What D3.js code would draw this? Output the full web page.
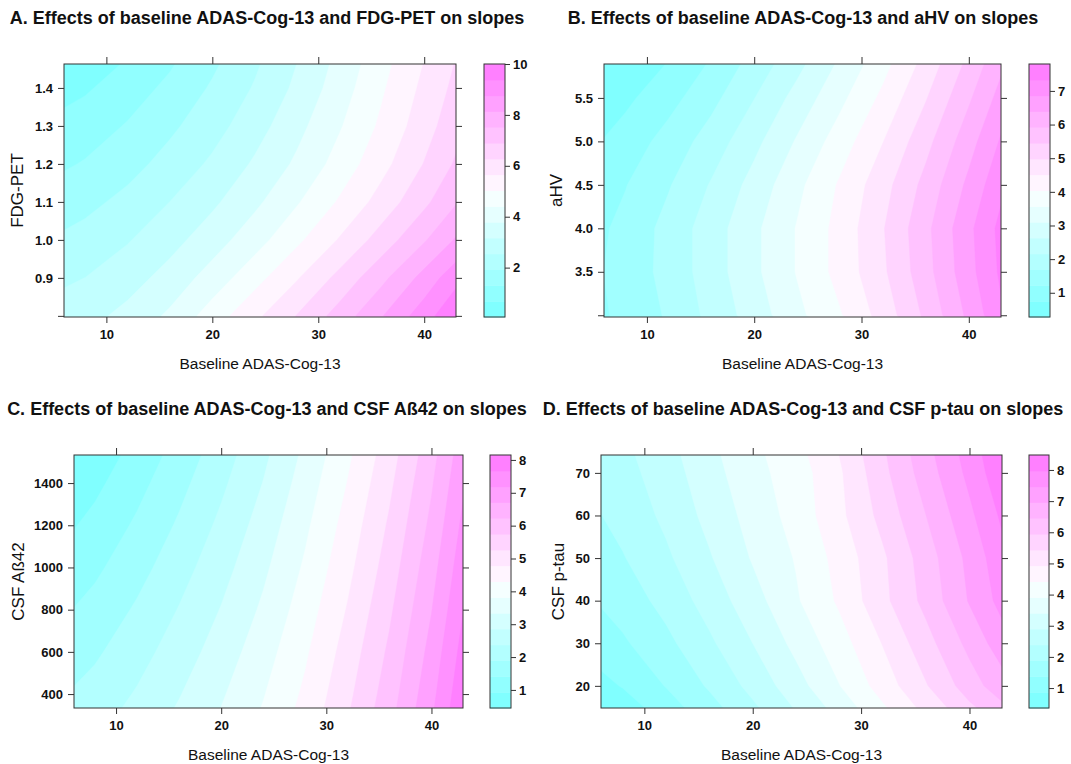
<!DOCTYPE html>
<html>
<head>
<meta charset="utf-8">
<script src="https://cdn.jsdelivr.net/npm/d3@7"></script>
<style>
  body { margin: 0; background: #fff; }
  svg text { font-family: "Liberation Sans", Arial, Helvetica, sans-serif; fill: #111; }
</style>
</head>
<body>
<svg id="fig" width="1071" height="764"></svg>
<script>
// ---- Data -----------------------------------------------------------------
// Baseline ADAS-Cog-13 grid (columns of every surface)
const adasGrid = [4, 8, 12, 16, 20, 24, 28, 32, 36, 40, 44];
const adasDomain = [6, 43];
const adasTicks = [10, 20, 30, 40];

// A. FDG-PET
const fdgGrid = [0.8, 0.9, 1.0, 1.1, 1.2, 1.3, 1.4, 1.5];
const slopesFdg = [
  [2.75, 2.95, 3.35, 3.9, 4.7, 5.5, 6.3, 7.15, 8.1, 9.1, 10.2],
  [2.3, 2.55, 2.9, 3.4, 4.05, 4.8, 5.6, 6.45, 7.35, 8.35, 9.45],
  [1.9, 2.15, 2.5, 2.95, 3.5, 4.15, 4.9, 5.7, 6.55, 7.45, 8.45],
  [1.5, 1.75, 2.1, 2.55, 3.05, 3.65, 4.35, 5.1, 5.9, 6.75, 7.7],
  [1.1, 1.35, 1.7, 2.15, 2.65, 3.25, 3.9, 4.65, 5.45, 6.3, 7.2],
  [0.75, 1.0, 1.35, 1.8, 2.3, 2.9, 3.6, 4.35, 5.15, 6.0, 6.9],
  [0.3, 0.6, 1.0, 1.45, 2.0, 2.6, 3.3, 4.1, 4.95, 5.8, 6.65],
  [-0.1, 0.2, 0.6, 1.1, 1.7, 2.35, 3.1, 3.9, 4.75, 5.6, 6.45]
];
const fdgDomain = [0.797, 1.463];
const fdgTicks = [0.8, 0.9, 1.0, 1.1, 1.2, 1.3, 1.4];
const fdgTickLabels = ["", "0.9", "1.0", "1.1", "1.2", "1.3", "1.4"];
const fdgRange = [0.06, 10.0];
const fdgBarTicks = [2, 4, 6, 8, 10];

// B. aHV
const ahvGrid = [3.0, 3.5, 4.0, 4.5, 5.0, 5.5, 6.0];
const slopesAhv = [
  [1.0, 1.35, 1.75, 2.3, 2.85, 3.45, 4.0, 4.7, 5.55, 6.5, 7.5],
  [1.05, 1.4, 1.85, 2.4, 3.0, 3.6, 4.2, 4.9, 5.75, 6.7, 7.65],
  [1.0, 1.35, 1.85, 2.4, 3.0, 3.6, 4.2, 4.95, 5.8, 6.75, 7.7],
  [0.85, 1.2, 1.65, 2.2, 2.8, 3.45, 4.1, 4.8, 5.6, 6.5, 7.45],
  [0.6, 0.95, 1.4, 1.9, 2.5, 3.15, 3.8, 4.5, 5.3, 6.2, 7.15],
  [0.3, 0.65, 1.05, 1.55, 2.15, 2.8, 3.45, 4.15, 4.95, 5.85, 6.8],
  [-0.05, 0.3, 0.7, 1.2, 1.8, 2.4, 3.1, 3.8, 4.6, 5.5, 6.45]
];
const ahvDomain = [2.98, 5.89];
const ahvTicks = [3.0, 3.5, 4.0, 4.5, 5.0, 5.5];
const ahvTickLabels = ["", "3.5", "4.0", "4.5", "5.0", "5.5"];
const ahvRange = [0.28, 7.8];
const ahvBarTicks = [1, 2, 3, 4, 5, 6, 7];

// C. CSF Aß42
const abetaGrid = [200, 400, 600, 800, 1000, 1200, 1400, 1600];
const slopesAbeta = [
  [2.08, 2.32, 2.66, 3.05, 3.48, 3.97, 4.56, 5.31, 6.16, 7.22, 8.52],
  [1.81, 2.07, 2.42, 2.83, 3.28, 3.79, 4.39, 5.14, 5.99, 7.04, 8.34],
  [1.55, 1.82, 2.19, 2.61, 3.08, 3.61, 4.23, 4.98, 5.83, 6.87, 8.16],
  [1.28, 1.57, 1.96, 2.40, 2.88, 3.42, 4.06, 4.81, 5.66, 6.69, 7.97],
  [1.01, 1.32, 1.72, 2.18, 2.68, 3.24, 3.89, 4.64, 5.49, 6.52, 7.79],
  [0.74, 1.07, 1.49, 1.96, 2.48, 3.06, 3.73, 4.48, 5.33, 6.34, 7.61],
  [0.48, 0.82, 1.26, 1.75, 2.28, 2.87, 3.56, 4.31, 5.16, 6.17, 7.42],
  [0.21, 0.57, 1.02, 1.53, 2.08, 2.69, 3.39, 4.14, 4.99, 5.99, 7.24]
];
const abetaDomain = [334, 1533];
const abetaTicks = [400, 600, 800, 1000, 1200, 1400];
const abetaTickLabels = ["400", "600", "800", "1000", "1200", "1400"];
const abetaRange = [0.45, 8.15];
const abetaBarTicks = [1, 2, 3, 4, 5, 6, 7, 8];

// D. CSF p-tau
const ptauGrid = [10, 20, 30, 40, 50, 60, 70, 80];
const slopesPtau = [
  [-0.05, 0.3, 0.85, 1.45, 2.05, 2.7, 3.35, 4.05, 4.8, 5.5, 6.1],
  [0.55, 0.9, 1.4, 1.95, 2.55, 3.2, 3.9, 4.65, 5.4, 6.2, 6.95],
  [0.95, 1.3, 1.75, 2.3, 2.9, 3.55, 4.2, 4.95, 5.75, 6.6, 7.45],
  [1.25, 1.6, 2.05, 2.6, 3.2, 3.85, 4.5, 5.3, 6.1, 7.0, 7.85],
  [1.5, 1.85, 2.3, 2.85, 3.45, 3.95, 4.6, 5.35, 6.2, 7.1, 8.05],
  [1.7, 2.05, 2.5, 3.05, 3.6, 4.1, 4.8, 5.6, 6.45, 7.35, 8.3],
  [1.85, 2.2, 2.65, 3.2, 3.75, 4.15, 4.85, 5.8, 6.7, 7.6, 8.6],
  [2.0, 2.35, 2.8, 3.35, 3.85, 4.35, 5.05, 5.95, 6.9, 7.8, 8.8]
];
const ptauDomain = [14.8, 74.2];
const ptauTicks = [20, 30, 40, 50, 60, 70];
const ptauTickLabels = ["20", "30", "40", "50", "60", "70"];
const ptauRange = [0.36, 8.48];
const ptauBarTicks = [1, 2, 3, 4, 5, 6, 7, 8];

const titles = [
  "A. Effects of baseline ADAS-Cog-13 and FDG-PET on slopes",
  "B. Effects of baseline ADAS-Cog-13 and aHV on slopes",
  "C. Effects of baseline ADAS-Cog-13 and CSF A\u00df42 on slopes",
  "D. Effects of baseline ADAS-Cog-13 and CSF p-tau on slopes"
];
const xLabel = "Baseline ADAS-Cog-13";
const yLabels = ["FDG-PET", "aHV", "CSF A\u00df42", "CSF p-tau"];

// ---- Layout ---------------------------------------------------------------
const nBands = 16;
const INK = "#333";

const panels = [
  { title: titles[0], yLabel: yLabels[0], ys: fdgGrid, z: slopesFdg, yDomain: fdgDomain,
    yTicks: fdgTicks, yTickLabels: fdgTickLabels, zRange: fdgRange, barTicks: fdgBarTicks,
    box: { l: 64, r: 456, t: 64, b: 317 }, bar: { l: 484, r: 505 }, titleX: 267, titleY: 24, yLabelX: 23 },
  { title: titles[1], yLabel: yLabels[1], ys: ahvGrid, z: slopesAhv, yDomain: ahvDomain,
    yTicks: ahvTicks, yTickLabels: ahvTickLabels, zRange: ahvRange, barTicks: ahvBarTicks,
    box: { l: 604, r: 1001, t: 64, b: 317 }, bar: { l: 1029, r: 1050 }, titleX: 803, titleY: 24, yLabelX: 562 },
  { title: titles[2], yLabel: yLabels[2], ys: abetaGrid, z: slopesAbeta, yDomain: abetaDomain,
    yTicks: abetaTicks, yTickLabels: abetaTickLabels, zRange: abetaRange, barTicks: abetaBarTicks,
    box: { l: 74, r: 463, t: 455, b: 708 }, bar: { l: 490, r: 511 }, titleX: 267, titleY: 415, yLabelX: 24 },
  { title: titles[3], yLabel: yLabels[3], ys: ptauGrid, z: slopesPtau, yDomain: ptauDomain,
    yTicks: ptauTicks, yTickLabels: ptauTickLabels, zRange: ptauRange, barTicks: ptauBarTicks,
    box: { l: 601, r: 1002, t: 455, b: 708 }, bar: { l: 1029, r: 1049 }, titleX: 803, titleY: 415, yLabelX: 564 }
];

// cyan -> white -> magenta ramp (100 steps), sampled once per band
function bandColor(k, n) {
  const i = Math.round(1 + k * 99 / (n - 1));
  if (i <= 50) {
    const s = 0.5 - (i - 1) * 0.01;
    return d3.rgb(255 * (1 - s), 255, 255).formatHex();
  }
  const s = (i - 50) * 0.01;
  return d3.rgb(255, 255 * (1 - s), 255).formatHex();
}

const svg = d3.select("#fig");

function styleAxis(g) {
  g.select(".domain").remove();
  g.selectAll(".tick line").attr("stroke", INK).attr("stroke-width", 1);
  g.selectAll(".tick text")
    .attr("font-family", '"Liberation Sans", Arial, sans-serif')
    .attr("font-size", 13).attr("font-weight", "bold").attr("fill", "#111");
}

panels.forEach((p, pi) => {
  const { box, bar } = p;
  const g = svg.append("g");

  const x = d3.scaleLinear().domain(adasDomain).range([box.l, box.r]);
  const y = d3.scaleLinear().domain(p.yDomain).range([box.b, box.t]);

  const lo = p.zRange[0], hi = p.zRange[1];
  const breaks = d3.range(nBands + 1).map(i => lo + (hi - lo) * i / nBands);

  // clip to the panel frame
  const clipId = "clip" + pi;
  svg.append("clipPath").attr("id", clipId)
    .append("rect").attr("x", box.l).attr("y", box.t)
    .attr("width", box.r - box.l).attr("height", box.b - box.t);

  const nx = adasGrid.length, ny = p.ys.length;
  const dxg = adasGrid[1] - adasGrid[0], dyg = p.ys[1] - p.ys[0];
  const proj = d3.geoTransform({
    point(gx, gy) {
      this.stream.point(x(adasGrid[0] + (gx - 0.5) * dxg), y(p.ys[0] + (gy - 0.5) * dyg));
    }
  });
  const path = d3.geoPath(proj);

  const fill = g.append("g").attr("clip-path", `url(#${clipId})`);
  fill.append("rect").attr("x", box.l).attr("y", box.t)
    .attr("width", box.r - box.l).attr("height", box.b - box.t)
    .attr("fill", bandColor(0, nBands));

  const bands = d3.contours().size([nx, ny]).thresholds(breaks.slice(1, nBands))(p.z.flat());
  fill.selectAll("path").data(bands).join("path")
    .attr("d", path)
    .attr("fill", (d, i) => bandColor(i + 1, nBands))
    .attr("fill-rule", "evenodd")
    .attr("stroke", (d, i) => bandColor(i + 1, nBands))
    .attr("stroke-width", 0.4);

  // axes
  const fmtY = d => p.yTickLabels[p.yTicks.indexOf(d)];
  g.append("g").attr("transform", `translate(0,${box.b})`)
    .call(d3.axisBottom(x).tickValues(adasTicks).tickSize(6).tickPadding(7)).call(styleAxis);
  g.append("g").attr("transform", `translate(0,${box.t})`)
    .call(d3.axisTop(x).tickValues(adasTicks).tickSize(7).tickFormat("")).call(styleAxis);
  g.append("g").attr("transform", `translate(${box.l},0)`)
    .call(d3.axisLeft(y).tickValues(p.yTicks).tickSize(6).tickPadding(5).tickFormat(fmtY)).call(styleAxis);
  g.append("g").attr("transform", `translate(${box.r},0)`)
    .call(d3.axisRight(y).tickValues(p.yTicks).tickSize(6).tickFormat("")).call(styleAxis);

  g.append("rect").attr("x", box.l).attr("y", box.t)
    .attr("width", box.r - box.l).attr("height", box.b - box.t)
    .attr("fill", "none").attr("stroke", INK).attr("stroke-width", 1);

  // colour key
  const cy = d3.scaleLinear().domain(p.zRange).range([box.b, box.t]);
  g.append("g").selectAll("rect").data(d3.range(nBands)).join("rect")
    .attr("x", bar.l).attr("width", bar.r - bar.l)
    .attr("y", k => cy(breaks[k + 1]))
    .attr("height", k => cy(breaks[k]) - cy(breaks[k + 1]) + 0.5)
    .attr("fill", k => bandColor(k, nBands));
  g.append("rect").attr("x", bar.l).attr("y", box.t)
    .attr("width", bar.r - bar.l).attr("height", box.b - box.t)
    .attr("fill", "none").attr("stroke", INK).attr("stroke-width", 1);
  g.append("g").attr("transform", `translate(${bar.r},0)`)
    .call(d3.axisRight(cy).tickValues(p.barTicks).tickSize(5).tickPadding(3).tickFormat(d3.format("d")))
    .call(styleAxis);

  // titles
  g.append("text").attr("x", p.titleX).attr("y", p.titleY)
    .attr("text-anchor", "middle").attr("font-size", 18).attr("font-weight", "bold")
    .text(p.title);
  g.append("text").attr("x", (box.l + box.r) / 2).attr("y", box.b + 52)
    .attr("text-anchor", "middle").attr("font-size", 15.5)
    .text(xLabel);
  g.append("text")
    .attr("transform", `translate(${p.yLabelX},${(box.t + box.b) / 2}) rotate(-90)`)
    .attr("text-anchor", "middle").attr("font-size", 17)
    .text(p.yLabel);
});
</script>
</body>
</html>
